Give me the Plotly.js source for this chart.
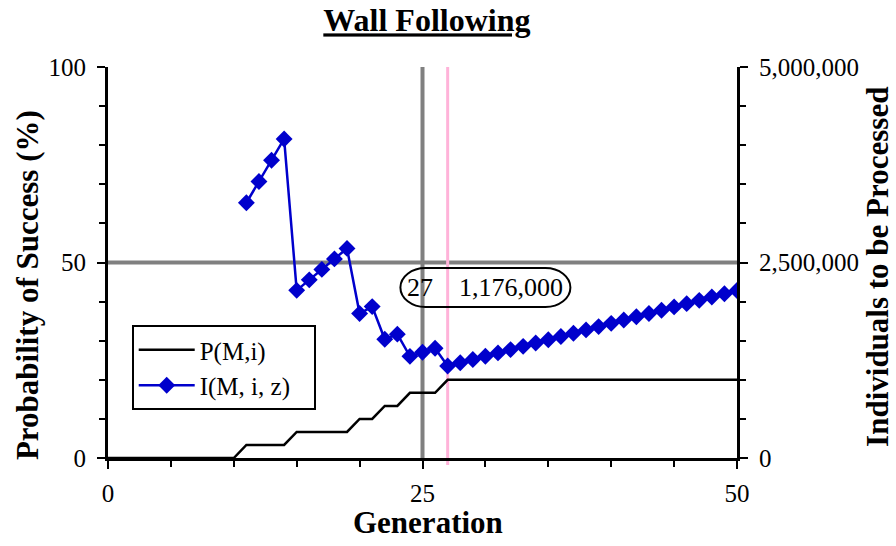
<!DOCTYPE html>
<html>
<head>
<meta charset="utf-8">
<script src="https://cdn.plot.ly/plotly-3.0.1.min.js"></script>
<style>html,body{margin:0;padding:0;background:#fff;}#chart{width:896px;height:546px;}</style>
</head>
<body>
<div id="chart"></div>
<script>
// Generations 0..50
var generations = [0,1,2,3,4,5,6,7,8,9,10,11,12,13,14,15,16,17,18,19,20,21,22,23,24,25,26,27,28,29,30,31,32,33,34,35,36,37,38,39,40,41,42,43,44,45,46,47,48,49,50];
// P(M,i): probability of success (%)
var probSuccess = [0,0,0,0,0,0,0,0,0,0,0,
  3.33,3.33,3.33,3.33,
  6.67,6.67,6.67,6.67,6.67,
  10,10,
  13.33,13.33,
  16.67,16.67,16.67,
  20,20,20,20,20,20,20,20,20,20,20,20,20,20,20,20,20,20,20,20,20,20,20,20];
// I(M,i,z): individuals to be processed, generations 11..50
var indivGen = [11,12,13,14,15,16,17,18,19,20,21,22,23,24,25,26,27,28,29,30,31,32,33,34,35,36,37,38,39,40,41,42,43,44,45,46,47,48,49,50];
var indivProcessed = [3264000,3536000,3808000,4080000,2144000,2278000,2412000,2546000,2680000,1848000,
  1936000,1518000,1584000,1300000,1352000,1404000,1176000,1218000,1260000,1302000,
  1344000,1386000,1428000,1470000,1512000,1554000,1596000,1638000,1680000,1722000,
  1764000,1806000,1848000,1890000,1932000,1974000,2016000,2058000,2100000,2142000];
var xTicks = [0,25,50];
var yTicks = [0,50,100];
var y2Ticks = [0,2500000,5000000];
var y2TickText = ['0','2,500,000','5,000,000'];
var seriesNames = ['P(M,i)','I(M, i, z)'];

var FONT = '"Liberation Serif","Times New Roman",Times,serif';
var PAD = '&nbsp;&nbsp;&nbsp;';

// best (minimum) point
var minIdx = 0;
for (var k = 1; k < indivProcessed.length; k++) if (indivProcessed[k] < indivProcessed[minIdx]) minIdx = k;
var bestGen = indivGen[minIdx];
var bestVal = indivProcessed[minIdx];

var traces = [
  {x: generations, y: probSuccess, name: seriesNames[0] + PAD, type: 'scatter', mode: 'lines',
   line: {color: '#000000', width: 2.5}, yaxis: 'y'},
  {x: indivGen, y: indivProcessed, name: seriesNames[1] + PAD, type: 'scatter', mode: 'lines+markers',
   line: {color: '#0000cc', width: 2.5}, marker: {symbol: 'diamond', size: 13, color: '#0000cc'}, yaxis: 'y2'}
];

var axisCommon = {
  showline: true, linecolor: '#000', linewidth: 3, mirror: false,
  ticks: 'outside', ticklen: 8, tickwidth: 2, tickcolor: '#000',
  showgrid: false, zeroline: false, fixedrange: true,
  tickfont: {family: FONT, size: 25, color: '#000'}
};

var layout = {
  width: 896, height: 546,
  margin: {l: 108, r: 159, t: 67, b: 88, pad: 0},
  paper_bgcolor: '#fff', plot_bgcolor: '#fff',
  font: {family: FONT, color: '#000'},
  title: {text: '<b>Wall Following</b>', xref: 'paper', x: 0.507, xanchor: 'center',
          yref: 'container', y: 0.963, yanchor: 'middle',
          font: {family: FONT, size: 32, color: '#000', lineposition: 'under'}},
  showlegend: true,
  legend: {x: 0.0377, y: 0.34, xanchor: 'left', yanchor: 'top', bgcolor: '#fff',
           bordercolor: '#000', borderwidth: 2, itemwidth: 56,
           font: {family: FONT, size: 25, color: '#000'}, tracegroupgap: 0},
  xaxis: Object.assign({}, axisCommon, {
    range: [0, 50], tickvals: xTicks, ticktext: xTicks.map(String), ticklabelstandoff: 3,
    minor: {dtick: 5, tick0: 0, ticks: 'outside', ticklen: 6, tickwidth: 2, tickcolor: '#000', showgrid: false}
  }),
  yaxis: Object.assign({}, axisCommon, {
    range: [0, 100], tickvals: yTicks, ticktext: yTicks.map(String), ticklabelstandoff: 6,
    minor: {dtick: 10, tick0: 0, ticks: 'outside', ticklen: 6, tickwidth: 2, tickcolor: '#000', showgrid: false}
  }),
  yaxis2: Object.assign({}, axisCommon, {
    overlaying: 'y', side: 'right', range: [0, 5000000],
    tickvals: y2Ticks, ticktext: y2TickText, ticklabelstandoff: 6,
    minor: {dtick: 500000, tick0: 0, ticks: 'outside', ticklen: 6, tickwidth: 2, tickcolor: '#000', showgrid: false}
  }),
  shapes: [
    {type: 'line', xref: 'x', yref: 'paper', x0: 25, x1: 25, y0: 0, y1: 1, layer: 'below',
     line: {color: '#808080', width: 4}},
    {type: 'line', xref: 'paper', yref: 'y', x0: 0, x1: 1, y0: 50, y1: 50, layer: 'below',
     line: {color: '#808080', width: 4}},
    {type: 'line', xref: 'x', yref: 'paper', x0: bestGen, x1: bestGen, y0: -0.018, y1: 1, layer: 'below',
     line: {color: '#ffb3d9', width: 3}},
    {type: 'path', xref: 'x', yref: 'y', xsizemode: 'pixel', ysizemode: 'pixel',
     xanchor: 30, yanchor: 43.6, layer: 'above', fillcolor: 'rgba(255,255,255,0)',
     path: 'M -60,19.5 L 60,19.5 C 73.8,19.5 85,10.77 85,0 C 85,-10.77 73.8,-19.5 60,-19.5 L -60,-19.5 C -73.8,-19.5 -85,-10.77 -85,0 C -85,10.77 -73.8,19.5 -60,19.5 Z',
     line: {color: '#000', width: 2}}
  ],
  annotations: [
    {xref: 'x', yref: 'y', x: 30, y: 43.6, xanchor: 'center', yanchor: 'middle', showarrow: false,
     text: bestGen + '&nbsp;&nbsp;&nbsp;&nbsp;' + bestVal.toLocaleString('en-US'),
     font: {family: FONT, size: 26, color: '#000'}},
    {xref: 'paper', yref: 'paper', x: 0.508, y: -0.166, xanchor: 'center', yanchor: 'middle', showarrow: false,
     text: '<b>Generation</b>', font: {family: FONT, size: 31, color: '#000'}},
    {xref: 'paper', yref: 'paper', x: -0.127, y: 0.4425, xanchor: 'center', yanchor: 'middle', showarrow: false,
     textangle: -90, text: '<b>Probability of Success (%)</b>', font: {family: FONT, size: 31, color: '#000'}},
    {xref: 'paper', yref: 'paper', x: 1.224, y: 0.4885, xanchor: 'center', yanchor: 'middle', showarrow: false,
     textangle: -90, text: '<b>Individuals to be Processed</b>', font: {family: FONT, size: 31, color: '#000'}}
  ]
};

Plotly.newPlot('chart', traces, layout, {displayModeBar: false, staticPlot: true});
</script>
</body>
</html>
